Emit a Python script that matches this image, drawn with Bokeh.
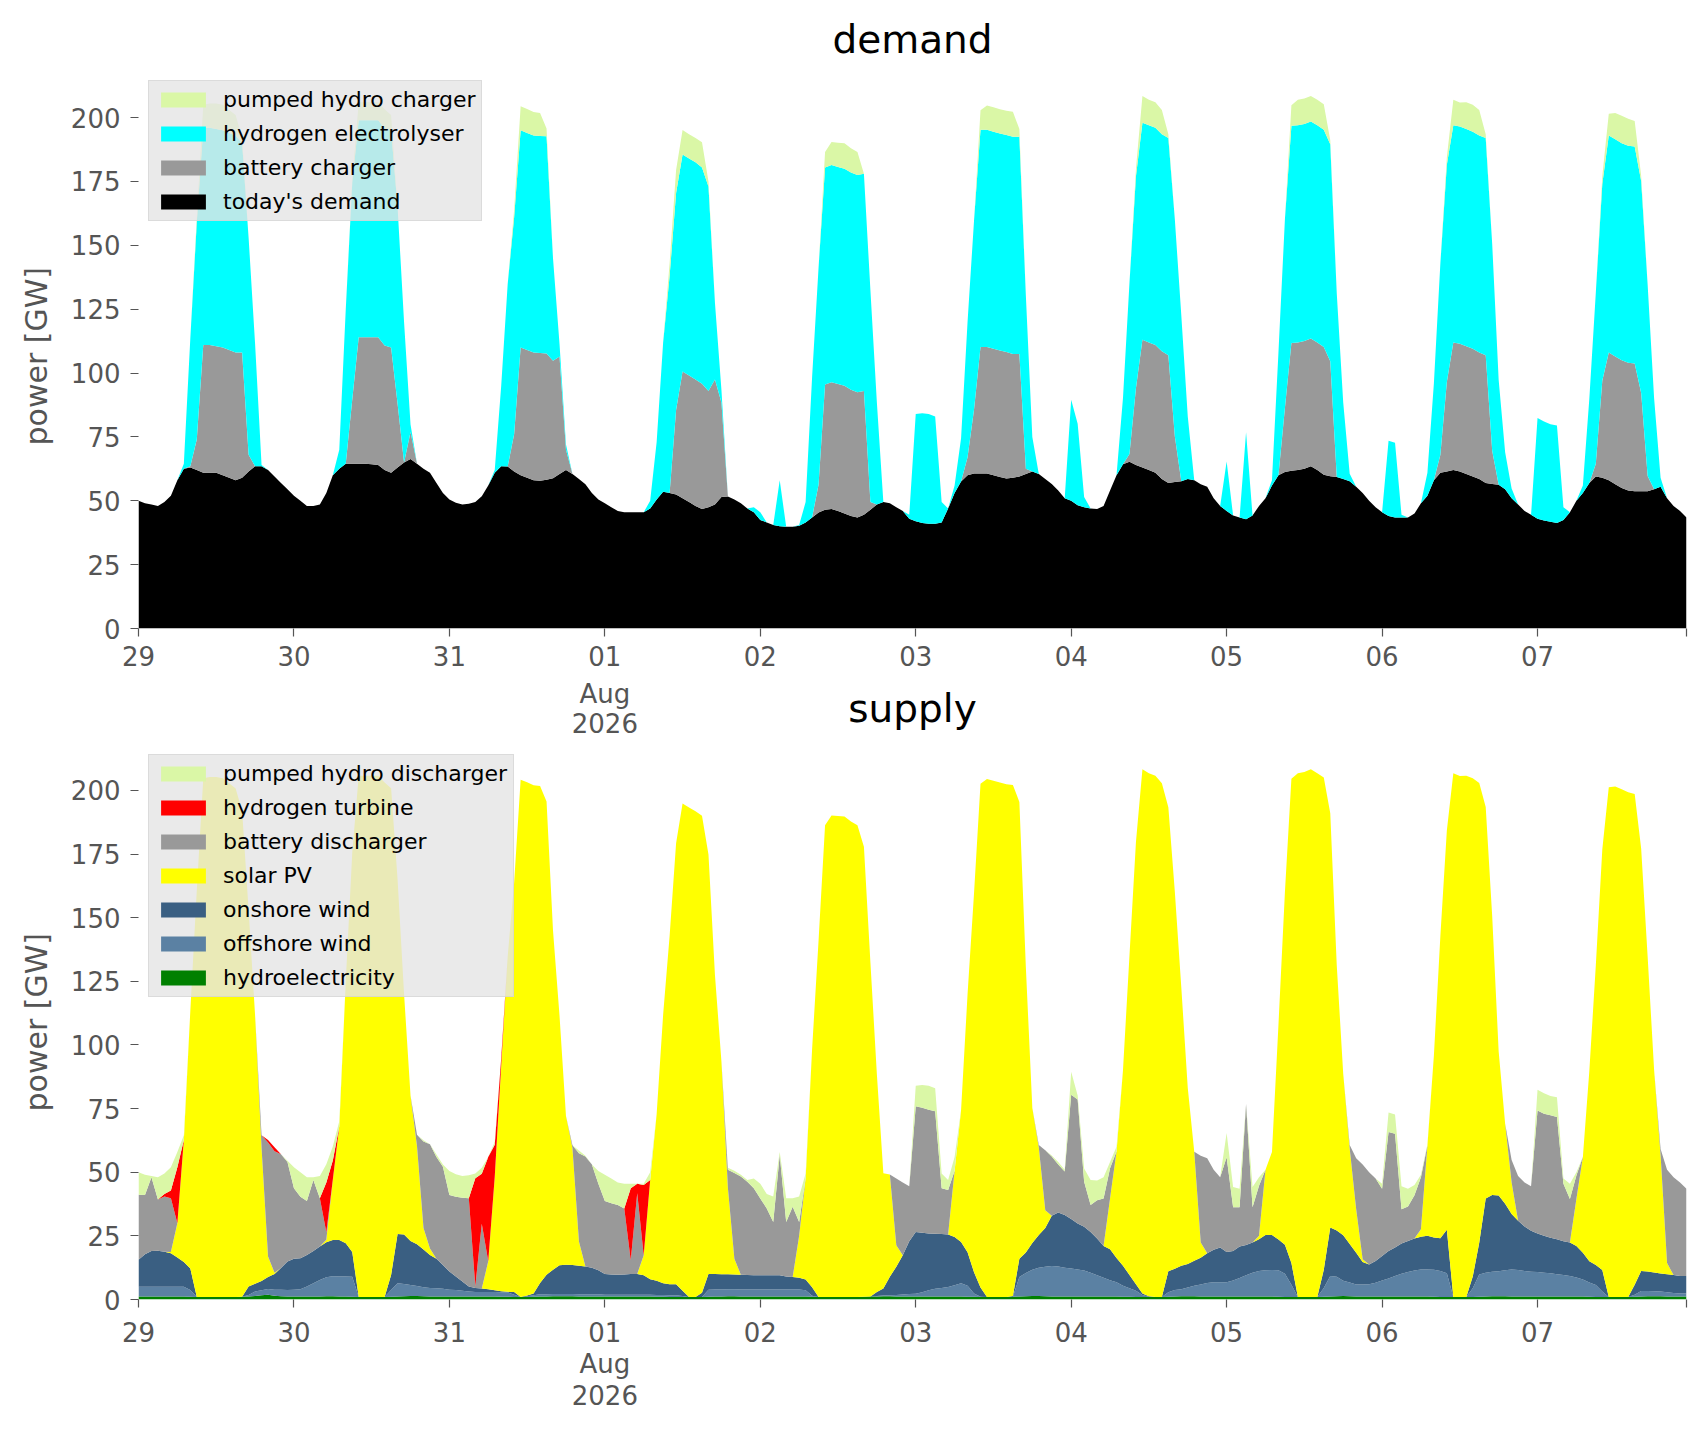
from bokeh.plotting import figure
from bokeh.models import ColumnDataSource, Range1d, FixedTicker, Legend, LegendItem, Label, Title
from bokeh.layouts import column
from bokeh.embed import file_html
from bokeh.resources import INLINE

# hourly values, 29 Jul 2026 00:00 .. 07 Aug 2026 23:00 (GW)
hours = list(range(240))

# ---- demand side ----
today_demand = [
    50, 49, 48.5, 48, 49.5, 52, 58, 62.5, 63, 62, 61, 61, 61, 60, 59, 58, 59, 61.5, 63.5, 63.5, 62, 59.5, 57, 54.5,
    52, 50, 48, 48, 48.5, 53, 60, 62.5, 64.5, 64.5, 64.5, 64.5, 64.3, 64, 62, 61, 63, 65, 66.4, 64.5, 62.5, 61, 57, 53,
    50.5, 49.2, 48.5, 48.8, 49.5, 51.8, 56, 61, 63.5, 63.4, 61.5, 60, 59, 58, 57.8, 58.2, 58.8, 60.5, 62, 60.5, 58.5, 56.5, 53, 50.5,
    49, 47.5, 46, 45.5, 45.5, 45.5, 45.5, 47, 50.5, 53.5, 53, 52.5, 51, 49.5, 48, 46.8, 47.5, 48.5, 51.5, 51.7, 50.5, 49, 47, 45.5,
    42.5, 41.5, 40.5, 40, 39.8, 39.8, 40.2, 41.5, 43.5, 45.4, 46.5, 46.8, 46, 45, 44, 43.5, 44.5, 46.5, 48.5, 49.5, 49, 47.5, 46, 43,
    42, 41.3, 41, 41, 41.5, 47, 53, 57.5, 60, 60.7, 60.7, 60.7, 60, 59.3, 58.7, 59, 59.5, 60.5, 61.5, 60.5, 58.5, 56.6, 54, 51,
    50, 48.2, 47.5, 47, 46.8, 48, 54, 60, 64.3, 65.3, 64, 63, 62, 61, 58.5, 57, 57.3, 57.6, 58.5, 58, 56.5, 55.5, 51, 48,
    46, 44.2, 43.5, 42.8, 44.2, 48, 51, 56, 60, 61.3, 61.8, 62, 62.5, 63.5, 62, 60.2, 59.6, 59.3, 58.5, 57.6, 55.5, 53, 50, 47.5,
    45.5, 44, 43.5, 43.5, 43.5, 45, 49, 52, 58, 61, 61.5, 62, 61.5, 60.5, 59.5, 58.5, 57, 56.6, 56.3, 54.5, 51, 48.5, 46, 44.5,
    43, 42.3, 41.8, 41.3, 42.5, 45.5, 50, 53, 57, 59.5, 59, 58, 56.5, 55, 54, 53.7, 53.7, 53.7, 54.5, 55.5, 51, 48, 46, 43.5,
]
battery_charger = [
    0, 0, 0, 0, 0, 0, 0, 0, 0.5, 12, 50, 50, 49.5, 50, 50, 50, 49, 6.5, 0, 0, 0, 0, 0, 0,
    0, 0, 0, 0, 0, 0, 0, 0, 0, 25, 49.5, 49.5, 49.7, 50, 48.8, 49, 25, 0, 10.5, 0, 0, 0, 0, 0,
    0, 0, 0, 0, 0, 0, 0, 0, 0, 0, 14.6, 50, 50, 50, 50, 49.5, 46, 46, 8, 0, 0, 0, 0, 0,
    0, 0, 0, 0, 0, 0, 0, 0, 0, 0, 0, 33, 49.6, 49.5, 49.5, 49, 45.5, 49, 37, 0, 0, 0, 0, 0,
    0, 0, 0, 0, 0, 0, 0, 0, 0, 11, 49, 49.6, 49.7, 50, 49.5, 49, 48.5, 3, 0, 0, 0, 0, 0, 0,
    0, 0, 0, 0, 0, 0, 0, 0, 7, 25, 49.5, 49.5, 49.5, 49.5, 49.5, 48.5, 48, 2, 0, 0, 0, 0, 0, 0,
    0, 0, 0, 0, 0, 0, 0, 0, 0, 3, 30, 50, 50, 50, 50, 50, 18, 0, 0, 0, 0, 0, 0, 0,
    0, 0, 0, 0, 0, 0, 0, 0, 0, 25, 50, 50, 50, 50, 50, 50, 45, 0, 0, 0, 0, 0, 0, 0,
    0, 0, 0, 0, 0, 0, 0, 0, 0, 7, 35, 50, 50, 50, 50, 49.5, 50, 13, 0, 0, 0, 0, 0, 0,
    0, 0, 0, 0, 0, 0, 0, 0, 0, 5, 38, 50, 50, 50, 50, 50, 38.5, 6, 0, 0, 0, 0, 0, 0,
]
electrolyser = [
    0, 0, 0, 0, 0, 0, 0, 2, 50, 85, 85, 85, 85, 85, 85, 85, 82, 85, 48, 0.5, 0, 0, 0, 0,
    0, 0, 0, 0, 0, 0, 0, 7.5, 60.5, 85, 85, 85, 85, 85, 85, 85, 77, 55, 3, 0, 0, 0, 0, 0,
    0, 0, 0, 0, 0, 0, 0, 1, 31.5, 71.5, 85, 85, 85, 85, 85, 85, 40, 5, 2, 0, 0, 0, 0, 0,
    0, 0, 0, 0, 0, 0, 0, 3, 22.5, 58.5, 85, 85, 85, 85, 85, 84.7, 80, 30, 5, 0, 0, 0, 0, 2,
    3, 0, 0, 18, 0, 0, 0.3, 8, 55, 85, 85, 85, 85, 85, 85, 85, 85, 83, 40, 0, 0, 0, 0, 1.5,
    42, 43, 43, 42, 8, 0, 3, 17, 53, 74, 85, 85, 85, 85, 85, 85, 85, 68, 13.5, 0, 0, 0, 0, 0,
    39.5, 32, 4, 0, 0, 0, 0, 0, 26, 67, 83, 85, 85, 85, 85, 85, 85, 65, 24.5, 0, 0, 0, 0, 0,
    19.4, 0, 0, 34, 0, 0, 0, 2, 48, 74, 85, 85, 85, 85, 85, 85, 85, 72, 30, 3, 0, 0, 0, 0,
    0, 29.5, 29.2, 1, 0, 0, 0, 9, 38, 75, 85, 85, 85, 85, 85, 85, 85, 81, 41, 14.5, 3.8, 0, 0, 0,
    39.4, 38.7, 38.2, 38.2, 5, 0, 0, 3, 33, 67, 77, 85, 85, 85, 85, 85, 83, 75, 35.6, 3.5, 0, 0, 0, 0,
]
pumped_charger = [
    0, 0, 0, 0, 0, 0, 0, 0, 0, 2, 9, 9.5, 10, 10, 9, 8, 2, 0, 0, 0, 0, 0, 0, 0,
    0, 0, 0, 0, 0, 0, 0, 0, 0, 1, 7, 7, 7, 7, 7.5, 6, 0, 0, 0, 0, 0, 0, 0, 0,
    0, 0, 0, 0, 0, 0, 0, 0, 0, 0, 3, 9.4, 9.4, 9.2, 9, 3, 0, 0, 0, 0, 0, 0, 0, 0,
    0, 0, 0, 0, 0, 0, 0, 0, 0, 0, 5, 9, 9.5, 9.5, 9.5, 9.8, 2, 0, 0, 0, 0, 0, 0, 0,
    0, 0, 0, 0, 0, 0, 0, 0, 0, 0, 6, 9, 9.5, 10, 9.5, 9, 0, 0, 0, 0, 0, 0, 0, 0,
    0, 0, 0, 0, 0, 0, 0, 0, 0, 0, 7.7, 9.5, 9.5, 9.5, 9.5, 9.8, 3, 0, 0, 0, 0, 0, 0, 0,
    0, 0, 0, 0, 0, 0, 0, 0, 0, 0, 3, 10.5, 10, 10, 9.5, 1.5, 0, 0, 0, 0, 0, 0, 0, 0,
    0, 0, 0, 0, 0, 0, 0, 0, 0, 0, 8, 10, 10, 10, 10, 10, 1.5, 0, 0, 0, 0, 0, 0, 0,
    0, 0, 0, 0, 0, 0, 0, 0, 0, 0, 3, 10, 9.4, 10.5, 10.5, 10, 1.5, 0, 0, 0, 0, 0, 0, 0,
    0, 0, 0, 0, 0, 0, 0, 0, 0, 0, 3, 8.5, 10.3, 10.7, 10.5, 10, 2, 0, 0, 0, 0, 0, 0, 0,
]

# ---- supply side ----
hydroelectricity = [
    1.2, 1.2, 1.2, 1.2, 1.2, 1.2, 1.2, 1.2, 1.1, 1.0, 1.0, 1.0, 1.0, 1.0, 1.0, 1.0, 1.1, 1.2, 1.4, 1.7, 1.9, 1.5, 1.3, 1.2,
    1.2, 1.2, 1.2, 1.2, 1.2, 1.3, 1.3, 1.2, 1.2, 1.1, 1.0, 1.0, 1.0, 1.0, 1.0, 1.1, 1.2, 1.3, 1.4, 1.4, 1.3, 1.2, 1.2, 1.2,
    1.2, 1.2, 1.2, 1.2, 1.2, 1.2, 1.2, 1.2, 1.1, 1.1, 1.0, 1.0, 1.0, 1.1, 1.2, 1.2, 1.3, 1.3, 1.3, 1.3, 1.2, 1.2, 1.2, 1.2,
    1.2, 1.2, 1.2, 1.2, 1.2, 1.2, 1.2, 1.2, 1.1, 1.1, 1.0, 1.0, 1.0, 1.0, 1.0, 1.0, 1.1, 1.2, 1.2, 1.3, 1.3, 1.2, 1.2, 1.2,
    1.2, 1.2, 1.2, 1.2, 1.2, 1.2, 1.2, 1.2, 1.1, 1.0, 1.0, 1.0, 1.0, 1.0, 1.0, 1.0, 1.1, 1.2, 1.2, 1.3, 1.3, 1.2, 1.2, 1.2,
    1.2, 1.2, 1.2, 1.2, 1.2, 1.2, 1.2, 1.2, 1.1, 1.1, 1.0, 1.0, 1.0, 1.0, 1.0, 1.1, 1.2, 1.3, 1.4, 1.4, 1.3, 1.2, 1.2, 1.2,
    1.2, 1.2, 1.2, 1.2, 1.2, 1.2, 1.2, 1.2, 1.1, 1.1, 1.0, 1.0, 1.0, 1.0, 1.0, 1.1, 1.2, 1.3, 1.3, 1.3, 1.2, 1.2, 1.2, 1.2,
    1.2, 1.2, 1.2, 1.2, 1.2, 1.2, 1.2, 1.2, 1.1, 1.0, 1.0, 1.0, 1.0, 1.0, 1.0, 1.1, 1.2, 1.3, 1.4, 1.3, 1.2, 1.2, 1.2, 1.2,
    1.2, 1.2, 1.2, 1.2, 1.2, 1.2, 1.2, 1.2, 1.1, 1.0, 1.0, 1.0, 1.0, 1.0, 1.0, 1.1, 1.2, 1.3, 1.3, 1.3, 1.2, 1.2, 1.2, 1.2,
    1.2, 1.2, 1.2, 1.2, 1.2, 1.2, 1.2, 1.2, 1.1, 1.0, 1.0, 1.0, 1.0, 1.0, 1.0, 1.1, 1.2, 1.3, 1.3, 1.3, 1.2, 1.2, 1.2, 1.2,
]
offshore_wind = [
    3.8, 3.8, 3.8, 3.8, 3.8, 3.8, 3.8, 3.8, 2.6, 0, 0, 0, 0, 0, 0, 0, 0, 0.6, 1.7, 1.9, 2.2, 2.3, 2.5, 2.5,
    2.6, 2.8, 3.9, 5.2, 6.5, 7.4, 7.8, 7.8, 7.8, 7.8, 0, 0, 0, 0, 0, 2.6, 5.2, 4.8, 4.3, 3.9, 3.5, 3.3, 3.2, 3,
    2.6, 2.5, 2.2, 1.9, 1.7, 1.7, 1.7, 1.7, 1.7, 1.7, 0.9, 0, 0.3, 0.6, 0.9, 0.9, 0.9, 0.9, 0.9, 0.9, 0.9, 0.9, 0.9, 0.9,
    0.7, 0.7, 0.7, 0.7, 0.7, 0.7, 0.7, 0.7, 0.7, 0.7, 0.7, 0.7, 0.4, 0, 0, 0, 2.7, 2.7, 2.7, 2.7, 2.7, 2.7, 2.7, 2.7,
    2.7, 2.7, 2.7, 2.7, 2.7, 2.7, 2.7, 2.4, 0.4, 0, 0, 0, 0, 0, 0, 0, 0, 0, 0.2, 0.3, 0.4, 0.6, 0.8, 1,
    1.1, 1.6, 2.4, 3, 3.3, 3.7, 4.4, 5.2, 4.3, 1.3, 0.1, 0, 0, 0, 0, 0, 7.6, 9.1, 10.3, 11.1, 11.6, 12, 11.8, 11.3,
    11, 10.6, 10.2, 9.3, 8.3, 7.3, 6.4, 5.6, 4.3, 3.3, 2.4, 0.8, 0.1, 0, 0, 1.7, 2.5, 2.7, 3.4, 4.1, 4.7, 5.3, 5.6, 5.6,
    5.6, 6.3, 7.2, 8.3, 9.3, 10, 10.3, 10.4, 10.4, 9.1, 4.8, 0, 0, 0, 0, 3.4, 8, 7.6, 6, 5.4, 4.7, 4.7, 4.8, 5.4,
    6.3, 7.1, 8, 8.9, 9.6, 10.2, 10.6, 10.6, 10.6, 10.2, 9.3, 0, 0, 0, 3.4, 8.7, 9.3, 9.6, 9.8, 10.2, 10.6, 10.4, 10, 9.7,
    9.6, 9.3, 9.1, 8.7, 8.4, 8, 7.4, 6.7, 5.6, 4.7, 2.1, 0, 0, 0, 0, 0.8, 2.1, 2, 1.9, 1.8, 1.6, 1.4, 1.2, 1.2,
]
onshore_wind = [
    10.6, 12.8, 14.1, 14.2, 13.8, 13.2, 11.5, 9.7, 8.5, 0, 0, 0, 0, 0, 0, 0, 0, 3.3, 3.1, 3.7, 4.7, 6.2, 8.6, 11.2,
    12.2, 12.2, 12.4, 12.7, 13.1, 13.8, 14.3, 14.4, 13.1, 9.8, 0, 0, 0, 0, 0, 5.9, 19.3, 19.4, 17.3, 16.4, 14.8, 13, 11.6, 9.4,
    7.2, 5.3, 3.7, 2, 1.6, 1.4, 1.1, 0.7, 0.4, 0.2, 1, 0, 0.3, 0.7, 4.4, 7.6, 9.5, 11.3, 11.5, 11.4, 11.2, 10.9, 10.4, 9.4,
    8.1, 7.9, 7.8, 7.9, 8.1, 8.1, 7.6, 6.1, 5.6, 4.6, 4.3, 4.3, 2, 0, 0, 1.7, 6.2, 6.1, 6, 5.9, 5.8, 5.8, 5.7, 5.6,
    5.6, 5.6, 5.6, 5.6, 5.1, 4.9, 4.6, 4.3, 3.3, 0, 0, 0, 0, 0, 0, 0, 0, 0, 1.5, 2.7, 7.2, 11.1, 15.4, 20.7,
    24.2, 23.4, 22.3, 21.6, 21.2, 20.6, 19, 16.2, 13.2, 8.3, 3.6, 0, 0, 0, 0, 0.3, 7.2, 8.1, 10.5, 12.8, 15.2, 19.7, 21.2, 20.7,
    19.4, 18.1, 17.2, 16, 14.5, 12.5, 12.1, 9.5, 7.9, 5.2, 2.6, 0.6, 0.2, 0, 0, 8.3, 8.4, 9.3, 9.2, 9.8, 10.5, 11.7, 12.7, 13.6,
    11.9, 11.6, 12.4, 11.9, 11.9, 12.5, 13.8, 13.7, 12.1, 11.4, 8.5, 0, 0, 0, 0, 7.2, 19.1, 18.2, 17.8, 15.1, 12.5, 8.8, 7.8, 8.5,
    9.6, 10.8, 11.2, 11.9, 12.2, 12.6, 12.9, 13.2, 12.7, 12.9, 17.1, 0, 0, 0, 4.6, 12.5, 29.2, 30.2, 29.8, 26.1, 21.8, 19.3, 17.5, 16.1,
    15.1, 14.5, 14, 13.8, 13.3, 13.2, 12.4, 10.5, 8.3, 7.9, 8.5, 0, 0, 0, 0, 3.9, 7.9, 7.7, 7.4, 7.1, 7.1, 7, 6.8, 6.8,
]
solar_pv = [
    0, 0, 0, 0, 0, 0.5, 13.5, 48, 101.2, 159.8, 203.8, 204.3, 204.3, 203.8, 201.8, 199.8, 190.8, 147.9, 105.5, 52.2, 8.1, 0.5, 0, 0,
    0, 0, 0, 0, 0, 1, 23.7, 44.6, 102.9, 156.7, 204.8, 204.8, 204.8, 204.8, 202.1, 191.3, 139.3, 94.6, 57.1, 38.5, 8.5, 2.5, 0, 0,
    0, 0, 0, 0, 0, 0, 11, 44.5, 88.7, 131.8, 161, 203.2, 201.6, 199.7, 195.3, 186, 133.2, 98.1, 58.4, 45.9, 9.5, 0, 0, 0,
    0, 0, 0, 0, 0, 0, 7.9, 39, 65.5, 105.5, 136.8, 173.3, 191.5, 192.3, 190.8, 187.4, 164.9, 117.5, 83.6, 33.9, 6.2, 0, 0, 0,
    0, 0, 0, 0, 0, 0, 16.5, 39.7, 93.6, 140.2, 185.3, 189.2, 189, 188.8, 186.8, 185.3, 176.8, 131.3, 85.6, 45.3, 40.2, 8.4, 0, 0,
    0, 0, 0, 0, 0, 0, 26, 51.9, 101.3, 148.9, 198, 203.5, 202.8, 202.1, 201.5, 200.8, 179.5, 112.1, 53, 34.4, 7, 0, 0, 0,
    0, 0, 0, 0, 0, 0, 20, 41.9, 76.9, 125.6, 173.8, 205.9, 205.5, 204.8, 201.8, 182.3, 148.2, 109.4, 69.2, 42.9, 6, 0, 0, 0,
    0, 0, 0, 0, 0, 1.3, 25.7, 32.7, 84.3, 138.6, 190.3, 205.8, 206.3, 207.3, 205.8, 193.4, 162.8, 104.3, 63.5, 37.5, 17.1, 1.1, 0, 0,
    0, 0, 0, 0, 0, 0, 2.9, 35.5, 71.5, 118.7, 156.9, 205.8, 204.7, 204.8, 195.8, 180.6, 153.8, 109.6, 56.5, 31.5, 12.4, 0, 0, 0,
    0, 0, 0, 0, 0, 0, 18.5, 37.6, 74.9, 117.7, 165.2, 200.3, 200.6, 199.5, 198.3, 192.8, 166, 123.8, 79.6, 46.5, 4.4, 0, 0, 0,
]
battery_discharger = [
    25.6, 23.3, 28.9, 20.1, 21.7, 21.1, 0, 0, 0, 0, 0, 0, 0, 0, 0, 0, 0, 0, 0, 5, 44.8, 47.8, 44.7, 39.1,
    27.7, 24.2, 21.2, 27.9, 19, 2.9, 0, 0, 0, 0, 0, 0, 0, 0, 0, 0, 0, 0, 0, 4.5, 34, 41, 40, 38.6,
    30.1, 31.4, 32.9, 34.7, 0.6, 25.5, 0, 0, 0, 0, 0, 0, 0, 0, 0, 0, 0, 0, 0, 1.1, 34.7, 43.2, 40.5, 34,
    28.7, 28, 27.4, 26, 5.4, 31.7, 0, 0, 0, 0, 0, 0, 0, 0, 0, 0, 0, 0, 0, 7.2, 33.7, 38.6, 36.7, 34.2,
    30.2, 26.3, 21, 47.3, 21.5, 27.6, 5.5, 0, 0, 0, 0, 0, 0, 0, 0, 0, 0, 0, 0, 0, 0, 26.2, 28.6, 21.6,
    49.4, 49.1, 48.7, 48.2, 18, 17.5, 0, 0, 0, 0, 0, 0, 0, 0, 0, 0, 0, 0, 0, 1, 23.5, 23.3, 18.8, 17.1,
    48.9, 48.7, 17.7, 10.6, 15, 18.7, 11.9, 0, 0, 0, 0, 0, 0, 0, 0, 0, 0, 0, 0, 0, 34.1, 37.3, 31.5, 27.6,
    37.2, 17.1, 15.4, 55.4, 13.8, 19.7, 0, 0, 0, 0, 0, 0, 0, 0, 0, 0, 0, 0, 0, 1.4, 20, 37.2, 36.2, 32.4,
    26.4, 46.7, 44.7, 13.5, 13.5, 17, 20.4, 0, 0, 0, 0, 0, 0, 0, 0, 0, 0, 0, 0, 0, 8.8, 17.6, 17.3, 17.5,
    48.4, 48, 48.1, 48, 22.6, 17.1, 9.2, 0, 0, 0, 0, 0, 0, 0, 0, 0, 0, 0, 0, 2.4, 36.7, 38.4, 36.8, 34.3,
]
hydrogen_turbine = [
    0, 0, 0, 0, 1, 3, 22, 0, 0, 0, 0, 0, 0, 0, 0, 0, 0, 0, 0, 0, 1, 1.5, 0, 0,
    0, 0, 0, 0, 0, 19.6, 7.5, 0, 0, 0, 0, 0, 0, 0, 0, 0, 0, 0, 0, 0, 0, 0, 0, 0,
    0, 0, 0, 0, 42.5, 19.6, 41, 12.7, 3, 0, 0, 0, 0, 0, 0, 0, 0, 0, 0, 0, 0, 0, 0, 0,
    0, 0, 0, 0, 28.3, 3.8, 27.6, 0, 0, 0, 0, 0, 0, 0, 0, 0, 0, 0, 0, 0, 0, 0, 0, 0,
    0, 0, 0, 0, 0, 0, 0, 0, 0, 0, 0, 0, 0, 0, 0, 0, 0, 0, 0, 0, 0, 0, 0, 0,
    0, 0, 0, 0, 0, 0, 0, 0, 0, 0, 0, 0, 0, 0, 0, 0, 0, 0, 0, 0, 0, 0, 0, 0,
    0, 0, 0, 0, 0, 0, 0, 0, 0, 0, 0, 0, 0, 0, 0, 0, 0, 0, 0, 0, 0, 0, 0, 0,
    0, 0, 0, 0, 0, 0, 0, 0, 0, 0, 0, 0, 0, 0, 0, 0, 0, 0, 0, 0, 0, 0, 0, 0,
    0, 0, 0, 0, 0, 0, 0, 0, 0, 0, 0, 0, 0, 0, 0, 0, 0, 0, 0, 0, 0, 0, 0, 0,
    0, 0, 0, 0, 0, 0, 0, 0, 0, 0, 0, 0, 0, 0, 0, 0, 0, 0, 0, 0, 0, 0, 0, 0,
]
pumped_discharger = [
    8.8, 7.9, 0.5, 8.7, 8, 9.2, 6, 1.8, 0, 0, 0, 0, 0, 0, 0, 0, 0, 0, 0, 0, 0, 0, 0, 0.5,
    8.3, 9.6, 9.3, 1, 8.7, 7.1, 5.5, 2, 0, 0, 0, 0, 0, 0, 0, 0, 0, 0, 0, 0, 0.5, 0, 1, 0.8,
    9.4, 8.8, 8.5, 9, 1.9, 2.4, 0, 1.2, 0, 0, 0, 0, 0, 0, 0, 0, 0, 0, 0, 0, 1, 0.3, 0, 5,
    10.3, 9.7, 8.9, 9.7, 1.8, 0, 0.5, 3, 0, 0, 0, 0, 0, 0, 0, 0, 0, 0, 0, 0.8, 0.9, 0.7, 0.7, 3.8,
    5.8, 5.7, 10, 1.2, 9.3, 3.4, 10, 1.9, 0, 0, 0, 0, 0, 0, 0, 0, 0, 0, 0, 0, 0, 0, 0, 0,
    8.1, 9, 9.4, 9, 5.8, 4, 5.4, 0, 0, 0, 0, 0, 0, 0, 0, 0, 0, 0, 0, 0, 0, 0.4, 1, 0.7,
    9, 1.6, 5.2, 9.9, 7.8, 8.3, 2.4, 1.8, 0, 0, 0, 0, 0, 0, 0, 0, 0, 0, 0, 0, 0, 0, 0, 0,
    9.5, 8, 7.3, 0, 8, 3.3, 0, 0, 0, 0, 0, 0, 0, 0, 0, 0, 0, 0, 0, 0, 0, 0, 0, 0,
    2, 7.7, 7.6, 9, 7, 4, 1, 0.5, 0, 0, 0, 0, 0, 0, 0, 0, 0, 0, 0, 0, 0, 0, 0, 0,
    8.1, 8, 7.6, 7.8, 2, 6, 1.3, 0, 0, 0, 0, 0, 0, 0, 0, 0, 0, 0, 0, 0, 0, 0, 0, 0,
]

day_ticks = [0, 24, 48, 72, 96, 120, 144, 168, 192, 216, 239]
day_labels = ["29", "30", "31", "01", "02", "03", "04", "05", "06", "07", ""]
day_labels_full = ["29", "30", "31", "01\nAug\n2026", "02", "03", "04", "05", "06", "07", ""]
gw_ticks = [0, 25, 50, 75, 100, 125, 150, 175, 200]

demand_names = ["today's demand", "battery charger", "hydrogen electrolyser", "pumped hydro charger"]
demand_cols = ["demand", "bat_ch", "h2_el", "ph_ch"]
demand_colors = ["#000000", "#999999", "#00FFFF", "#DAF7A6"]

supply_names = ["hydroelectricity", "offshore wind", "onshore wind", "solar PV",
                "battery discharger", "hydrogen turbine", "pumped hydro discharger"]
supply_cols = ["hydro", "off", "on", "solar", "bat_dis", "h2_tu", "ph_dis"]
supply_colors = ["#008000", "#5B81A3", "#3A5F82", "#FFFF00", "#999999", "#FF0000", "#DAF7A6"]

FONT = "DejaVu Sans"
GREY = "#555555"

demand_src = ColumnDataSource(data=dict(
    x=hours, demand=today_demand, bat_ch=battery_charger, h2_el=electrolyser, ph_ch=pumped_charger))
supply_src = ColumnDataSource(data=dict(
    x=hours, hydro=hydroelectricity, off=offshore_wind, on=onshore_wind, solar=solar_pv,
    bat_dis=battery_discharger, h2_tu=hydrogen_turbine, ph_dis=pumped_discharger))


def make_panel(frame_h, y_top, top_border, bottom_border, labels, x_tick, x_standoff):
    p = figure(frame_width=1548, frame_height=frame_h,
               x_range=Range1d(0, 239), y_range=Range1d(0, y_top),
               output_backend="svg", toolbar_location=None,
               min_border_left=138, min_border_right=12,
               min_border_top=top_border, min_border_bottom=bottom_border)
    p.background_fill_color = "white"
    p.border_fill_color = "white"
    p.outline_line_color = None
    p.xgrid.grid_line_color = None
    p.ygrid.grid_line_color = None
    for ax in (p.xaxis[0], p.yaxis[0]):
        ax.axis_line_color = None
        ax.major_tick_line_color = GREY
        ax.major_tick_line_width = 1.2
        ax.major_tick_in = 0
        ax.major_tick_out = 8
        ax.minor_tick_line_color = None
        ax.major_label_text_color = GREY
        ax.major_label_text_font = FONT
        ax.major_label_text_font_size = "26px"
        ax.major_label_standoff = 10
    p.xaxis.major_tick_out = x_tick
    p.xaxis.major_label_standoff = x_standoff
    p.xaxis.major_label_text_line_height = 1.05
    p.xaxis.ticker = FixedTicker(ticks=day_ticks)
    p.xaxis.major_label_overrides = dict(zip(day_ticks, labels))
    p.yaxis.ticker = FixedTicker(ticks=gw_ticks)
    return p


def add_ylabel(p, offset):
    p.add_layout(Title(text="power [GW]", align="left", offset=offset, standoff=28,
                       text_font=FONT, text_font_size="30px", text_font_style="normal",
                       text_color=GREY), "left")


def add_legend(p, renderers, names, bottom_y):
    items = [LegendItem(label=n, renderers=[r]) for n, r in zip(names, renderers)][::-1]
    legend = Legend(items=items, location=(10, bottom_y), padding=6,
                    spacing=9, glyph_width=56, glyph_height=19, label_height=19,
                    label_standoff=12, label_text_font=FONT, label_text_font_size="22px",
                    label_text_color="black", background_fill_color="#E5E5E5",
                    background_fill_alpha=0.8, border_line_color="#CCCCCC",
                    border_line_width=1.5)
    p.add_layout(legend)


# upper panel: demand
p1 = make_panel(562, 220, 66, 49, day_labels, 8, 9)
p1.title.text = "demand"
p1.title.align = "center"
p1.title.text_font = FONT
p1.title.text_font_size = "39px"
p1.title.text_font_style = "normal"
p1.title.text_color = "black"
p1.title.standoff = 9
add_ylabel(p1, 183)
r1 = p1.varea_stack(stackers=demand_cols, x="x", color=demand_colors, source=demand_src)
add_legend(p1, r1, demand_names, 407)

# lower panel: supply; its frame also holds the month context of the upper axis and its own title
p2 = make_panel(622, 244.4, 0, 110, day_labels_full, 8, 10)
add_ylabel(p2, 188)
r2 = p2.varea_stack(stackers=supply_cols, x="x", color=supply_colors, source=supply_src)
add_legend(p2, r2, supply_names, 302)

for txt, yy in (("Aug", 238.1), ("2026", 226.4)):
    p2.add_layout(Label(x=72, y=yy, text=txt, text_align="center", text_baseline="alphabetic",
                        text_font=FONT, text_font_size="26px", text_color=GREY))
p2.add_layout(Label(x=119.5, y=232.1, text="supply", text_align="center",
                    text_baseline="alphabetic", text_font=FONT,
                    text_font_size="39px", text_color="black"))

page = column(p1, p2, spacing=0)
open("out.html", "w").write(file_html(page, INLINE))
